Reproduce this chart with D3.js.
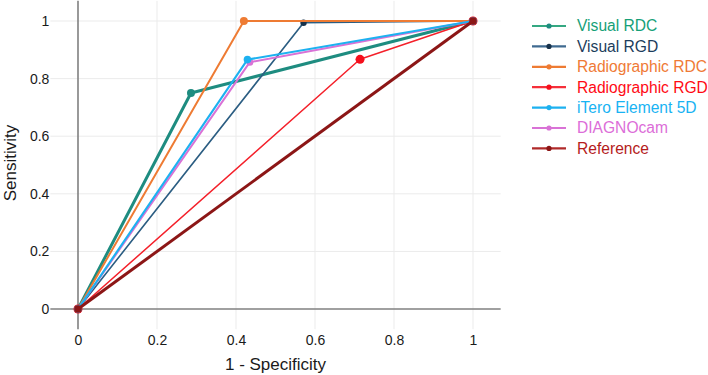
<!DOCTYPE html>
<html>
<head>
<meta charset="utf-8">
<script src="https://cdn.jsdelivr.net/npm/d3@7"></script>
<style>
  html, body { margin: 0; padding: 0; background: #ffffff; }
  svg { display: block; font-family: "Liberation Sans", Arial, Helvetica, sans-serif; }
</style>
</head>
<body>
<svg id="chart" width="708" height="375"></svg>
<script>
// ---- data ----
const seriesNames = ["Visual RDC", "Visual RGD", "Radiographic RDC", "Radiographic RGD", "iTero Element 5D", "DIAGNOcam", "Reference"];
const visualRDC_fpr = [0, 0.286, 1];
const visualRDC_sens = [0, 0.75, 1];
const visualRGD_fpr = [0, 0.571, 1];
const visualRGD_sens = [0, 0.994, 1];
const radioRDC_fpr = [0, 0.42, 1];
const radioRDC_sens = [0, 1, 1];
const radioRGD_fpr = [0, 0.714, 1];
const radioRGD_sens = [0, 0.867, 1];
const itero_fpr = [0, 0.429, 1];
const itero_sens = [0, 0.866, 1];
const diagno_fpr = [0, 0.435, 1];
const diagno_sens = [0, 0.857, 1];
const reference_fpr = [0, 1];
const reference_sens = [0, 1];
const tickValues = [0, 0.2, 0.4, 0.6, 0.8, 1];
const tickLabels = ["0", "0.2", "0.4", "0.6", "0.8", "1"];
const xTitle = "1 - Specificity";
const yTitle = "Sensitivity";
// order in which the series are painted (iTero sits on top of DIAGNOcam)
const drawOrder = [0, 1, 2, 3, 5, 4, 6];

// ---- styles ----
const lineColors = ["#1e8c80", "#2b5d82", "#ee7b33", "#f4202a", "#1db1f0", "#d972d6", "#8c1616"];
const markerColors = ["#1e8c80", "#17324b", "#ee7b33", "#f50f1c", "#1db1f0", "#d972d6", "#8c1616"];
const legendLineColors = ["#35a882", "#3f6a90", "#ee7b33", "#f5303a", "#1db1f0", "#d972d6", "#b02a2a"];
const legendTextColors = ["#16a077", "#1c3d5c", "#ef7a36", "#ff0a14", "#18b3f3", "#dc6dd8", "#b51c1c"];
const lineWidths = [3, 1.6, 2, 1.5, 2.1, 2, 3];
const markerRadii = [4, 3.2, 4, 4.5, 3.8, 3.5, 3.8];

const xsAll = [visualRDC_fpr, visualRGD_fpr, radioRDC_fpr, radioRGD_fpr, itero_fpr, diagno_fpr, reference_fpr];
const ysAll = [visualRDC_sens, visualRGD_sens, radioRDC_sens, radioRGD_sens, itero_sens, diagno_sens, reference_sens];
const series = seriesNames.map((name, i) => ({
  name, i,
  points: xsAll[i].map((x, j) => ({ x, y: ysAll[i][j] }))
}));
const paintSeries = drawOrder.map(k => series[k]);

const svg = d3.select("#chart");
const x = d3.scaleLinear().domain([-0.07, 1.07]).range([50.35, 500.65]);
const y = d3.scaleLinear().domain([-0.07, 1.07]).range([329.2, 0.84]);

// gridlines
const grid = svg.append("g").attr("class", "grid");
grid.selectAll("line.h").data(tickValues.filter(v => v !== 0)).join("line")
  .attr("class", "h")
  .attr("x1", x.range()[0]).attr("x2", x.range()[1])
  .attr("y1", d => y(d)).attr("y2", d => y(d))
  .attr("stroke", "#ebebeb").attr("stroke-width", 1);
grid.selectAll("line.v").data(tickValues.filter(v => v !== 0)).join("line")
  .attr("class", "v")
  .attr("y1", y.range()[0]).attr("y2", y.range()[1])
  .attr("x1", d => x(d)).attr("x2", d => x(d))
  .attr("stroke", "#ebebeb").attr("stroke-width", 1);

// axis lines through zero
svg.append("line")
  .attr("x1", x.range()[0]).attr("x2", x.range()[1])
  .attr("y1", y(0)).attr("y2", y(0))
  .attr("stroke", "#808080").attr("stroke-width", 1.6);
svg.append("line")
  .attr("x1", x(0)).attr("x2", x(0))
  .attr("y1", y.range()[0]).attr("y2", y.range()[1])
  .attr("stroke", "#808080").attr("stroke-width", 1.6);

// tick labels via d3 axes
const xAxis = d3.axisBottom(x).tickValues(tickValues).tickFormat((d, i) => tickLabels[i]).tickSize(0).tickPadding(6);
const gx = svg.append("g").attr("transform", `translate(0,${y.range()[0]})`).call(xAxis);
gx.select(".domain").remove();
gx.selectAll("text").attr("font-size", 14).attr("fill", "#1a1a1a").attr("font-family", "'Liberation Sans', Arial, sans-serif");

const yAxis = d3.axisLeft(y).tickValues(tickValues).tickFormat((d, i) => tickLabels[i]).tickSize(0).tickPadding(1);
const gy = svg.append("g").attr("transform", `translate(${x.range()[0]},0)`).call(yAxis);
gy.select(".domain").remove();
gy.selectAll("text").attr("font-size", 14).attr("fill", "#1a1a1a").attr("font-family", "'Liberation Sans', Arial, sans-serif");

// axis titles
svg.append("text")
  .attr("x", (x.range()[0] + x.range()[1]) / 2).attr("y", 370)
  .attr("text-anchor", "middle").attr("font-size", 17).attr("fill", "#1a1a1a")
  .text(xTitle);
svg.append("text")
  .attr("transform", `translate(16,${(y.range()[0] + y.range()[1]) / 2 - 2}) rotate(-90)`)
  .attr("text-anchor", "middle").attr("font-size", 17).attr("fill", "#1a1a1a")
  .text(yTitle);

// lines + markers
const line = d3.line().x(d => x(d.x)).y(d => y(d.y));
const gs = svg.append("g").selectAll("g").data(paintSeries).join("g");
gs.append("path")
  .attr("d", d => line(d.points))
  .attr("fill", "none")
  .attr("stroke", d => lineColors[d.i])
  .attr("stroke-width", d => lineWidths[d.i])
  .attr("stroke-linejoin", "round");
gs.selectAll("circle").data(d => d.points.map(p => ({ ...p, i: d.i }))).join("circle")
  .attr("cx", d => x(d.x)).attr("cy", d => y(d.y))
  .attr("r", d => markerRadii[d.i])
  .attr("fill", d => markerColors[d.i]);

// legend
const legend = svg.append("g").attr("transform", "translate(532,26)");
const rows = legend.selectAll("g").data(series).join("g")
  .attr("transform", (d, i) => `translate(0,${i * 20.4})`);
rows.append("line")
  .attr("x1", 0).attr("x2", 34).attr("y1", 0).attr("y2", 0)
  .attr("stroke", d => legendLineColors[d.i]).attr("stroke-width", 2.2);
rows.append("circle")
  .attr("cx", 17).attr("cy", 0).attr("r", 2.6)
  .attr("fill", d => markerColors[d.i]);
rows.append("text")
  .attr("x", 45).attr("y", 0).attr("dy", "0.35em")
  .attr("font-size", 15.6)
  .attr("fill", d => legendTextColors[d.i])
  .text(d => d.name);
</script>
</body>
</html>
